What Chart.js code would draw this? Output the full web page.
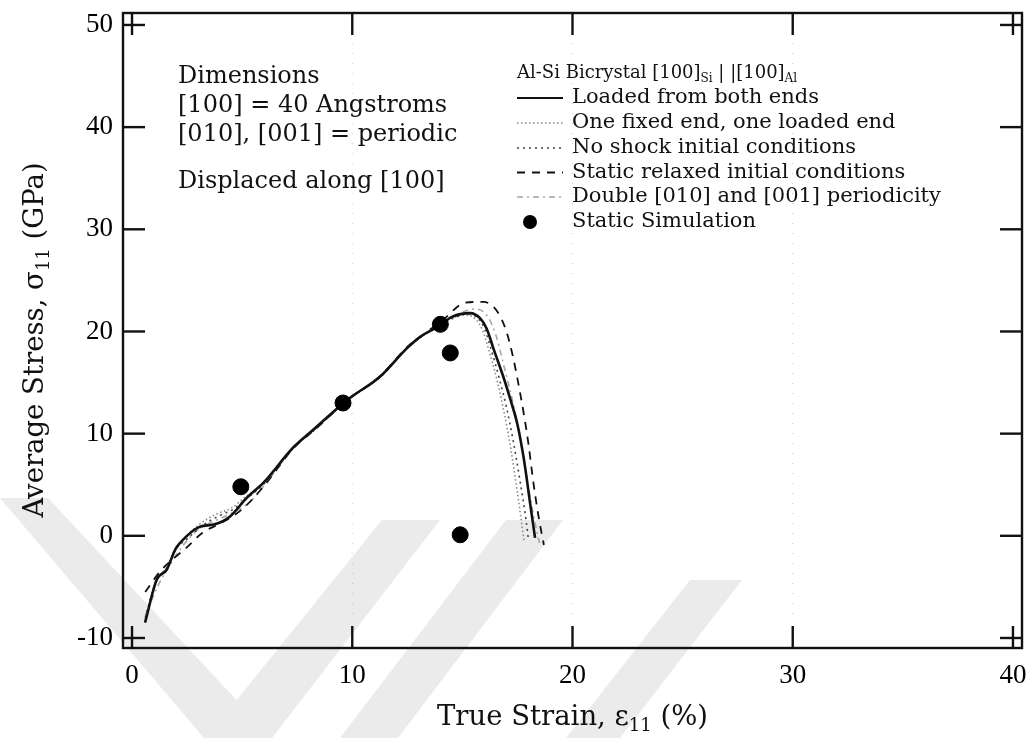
<!DOCTYPE html>
<html>
<head>
<meta charset="utf-8">
<script src="https://cdn.jsdelivr.net/npm/chart.js@4.4.1/dist/chart.umd.min.js"></script>
<style>
  html, body { margin: 0; padding: 0; background: #fff; }
  #wrap { width: 1032px; height: 738px; }
</style>
</head>
<body>
<div id="wrap"><canvas id="chart" width="1032" height="738"></canvas></div>
<script>
const SERIF = "'DejaVu Serif', 'Liberation Serif', serif";
const TICK_FONT = "'Liberation Serif', 'DejaVu Serif', serif";

const xTickValues = [0, 10, 20, 30, 40];
const yTickValues = [-10, 0, 10, 20, 30, 40, 50];

// strain (%) / stress (GPa)
const bothEndsStrain = [0.59, 1.12, 1.58, 1.95, 2.18, 3.09, 3.7, 4.45, 5.2, 5.97, 7.3, 8.24, 9.77, 11.27, 12.5, 13.1, 14.0, 14.5, 15.36, 15.8, 16.1, 16.4, 16.9, 17.2, 17.5, 17.8, 18.1, 18.3];
const bothEndsStress = [-8.5, -4.3, -3.3, -1.4, -0.7, 0.9, 1.1, 1.9, 3.7, 5.2, 8.6, 10.4, 13.3, 15.6, 18.4, 19.5, 20.6, 21.4, 21.8, 21.3, 20.3, 18.4, 15.3, 13.2, 10.9, 7.4, 2.8, -0.2];

const fixedEndStrain = [0.6, 1.1, 1.6, 2.0, 2.4, 3.1, 3.8, 4.5, 5.2, 6.0, 7.3, 8.3, 9.8, 11.3, 12.5, 13.2, 14.0, 14.6, 15.2, 15.6, 15.9, 16.2, 16.6, 16.9, 17.2, 17.5, 17.8];
const fixedEndStress = [-8.2, -4.5, -3.0, -1.2, -0.2, 1.2, 2.1, 2.7, 3.9, 5.2, 8.6, 10.5, 13.3, 15.7, 18.4, 19.6, 20.7, 21.4, 21.6, 21.2, 20.2, 18.2, 15.0, 12.0, 8.5, 4.2, -0.5];

const noShockStrain = [0.6, 1.1, 1.6, 2.0, 2.5, 3.2, 3.9, 4.6, 5.3, 6.0, 7.3, 8.3, 9.8, 11.3, 12.5, 13.2, 14.0, 14.6, 15.2, 15.7, 16.0, 16.3, 16.7, 17.0, 17.3, 17.6, 17.9, 18.0];
const noShockStress = [-8.0, -4.4, -3.1, -1.3, -0.3, 1.0, 1.9, 2.6, 3.8, 5.1, 8.6, 10.4, 13.3, 15.6, 18.4, 19.6, 20.7, 21.3, 21.7, 21.3, 20.3, 18.3, 15.2, 12.6, 9.4, 5.6, 1.4, -0.4];

const relaxedStrain = [0.6, 1.27, 1.9, 2.5, 3.2, 4.0, 5.0, 6.0, 7.3, 8.3, 9.8, 11.3, 12.5, 13.3, 14.2, 15.1, 15.95, 16.6, 17.0, 17.3, 17.55, 17.8, 18.0, 18.2, 18.45, 18.7];
const relaxedStress = [-5.5, -3.5, -2.2, -1.1, 0.3, 1.2, 2.6, 4.9, 8.5, 10.4, 13.3, 15.7, 18.5, 19.8, 21.3, 22.8, 22.9, 21.9, 20.0, 17.5, 14.8, 11.8, 9.0, 5.6, 2.0, -0.9];

const doubleStrain = [0.6, 1.2, 1.8, 2.3, 3.0, 3.8, 4.6, 5.4, 6.2, 7.3, 8.3, 9.8, 11.3, 12.5, 13.2, 14.1, 14.8, 15.6, 16.1, 16.5, 16.9, 17.3, 17.6, 17.9, 18.2, 18.5];
const doubleStress = [-7.8, -4.8, -2.6, -1.0, 0.6, 1.5, 2.3, 3.4, 5.5, 8.5, 10.4, 13.3, 15.6, 18.4, 19.6, 20.9, 21.7, 22.2, 21.6, 19.8, 16.5, 13.0, 9.8, 6.0, 2.3, -0.7];

const staticStrain = [4.94, 9.58, 14.0, 14.45, 14.9];
const staticStress = [4.8, 13.0, 20.7, 17.9, 0.1];

// light grey watermark bands behind the plot (decoration, canvas pixels)
const WATERMARK = [
  [[0, 498], [48, 498], [272, 738], [204, 738]],
  [[382, 520], [440, 520], [272, 738], [206, 738]],
  [[506, 520], [563, 520], [398, 738], [340, 738]],
  [[690, 580], [742, 580], [620, 738], [566, 738]]
];

function pts(xs, ys) {
  return xs.map((x, i) => ({ x: x, y: ys[i] }));
}

function lineSet(label, xs, ys, color, width, dash) {
  return {
    type: "line",
    label: label,
    data: pts(xs, ys),
    borderColor: color,
    backgroundColor: color,
    borderWidth: width,
    borderDash: dash,
    pointRadius: 0,
    cubicInterpolationMode: "monotone",
    fill: false
  };
}

function line(ctx, x1, y1, x2, y2) {
  ctx.beginPath();
  ctx.moveTo(x1, y1);
  ctx.lineTo(x2, y2);
  ctx.stroke();
}

function richWidth(ctx, parts, size) {
  let w = 0;
  parts.forEach(([txt, sub]) => {
    ctx.font = (sub ? Math.round(size * 0.66) : size) + "px " + SERIF;
    w += ctx.measureText(txt).width;
  });
  return w;
}

// draws [text, isSub] pieces one after the other
function drawRich(ctx, parts, x, y, size) {
  let cx = x;
  parts.forEach(([txt, sub]) => {
    ctx.font = (sub ? Math.round(size * 0.66) : size) + "px " + SERIF;
    ctx.fillText(txt, cx, sub ? y + size * 0.3 : y);
    cx += ctx.measureText(txt).width;
  });
}

const xTitle = [["True Strain, ε", false], ["11", true], [" (%)", false]];
const yTitle = [["Average Stress, σ", false], ["11", true], [" (GPa)", false]];
const legendTitle = [["Al-Si Bicrystal [100]", false], ["Si", true], [" | |[100]", false], ["Al", true]];

const decorPlugin = {
  id: "decor",
  beforeDraw(chart) {
    const ctx = chart.ctx;
    ctx.save();
    ctx.fillStyle = "#fff";
    ctx.fillRect(0, 0, chart.width, chart.height);
    ctx.fillStyle = "#ebebeb";
    WATERMARK.forEach(poly => {
      ctx.beginPath();
      poly.forEach(([px, py], i) => (i ? ctx.lineTo(px, py) : ctx.moveTo(px, py)));
      ctx.closePath();
      ctx.fill();
    });
    ctx.restore();
  },
  beforeDatasetsDraw(chart) {
    const ctx = chart.ctx;
    const { top, bottom } = chart.chartArea;
    ctx.save();
    ctx.strokeStyle = "rgba(0,0,0,0.22)";
    ctx.lineWidth = 1;
    ctx.setLineDash([1, 9]);
    xTickValues.slice(1, -1).forEach(v => {
      const px = chart.scales.x.getPixelForValue(v);
      line(ctx, px, top + 30, px, bottom - 30);
    });
    ctx.restore();
  },
  afterDraw(chart) {
    const ctx = chart.ctx;
    const { left, right, top, bottom } = chart.chartArea;
    const xs = chart.scales.x;
    const ys = chart.scales.y;
    const TL = 22;

    ctx.save();
    ctx.strokeStyle = "#111";
    ctx.lineWidth = 2.4;
    ctx.setLineDash([]);
    ctx.strokeRect(left, top, right - left, bottom - top);
    xTickValues.forEach(v => {
      const px = xs.getPixelForValue(v);
      line(ctx, px, bottom, px, bottom - TL);
      line(ctx, px, top, px, top + TL);
    });
    yTickValues.forEach(v => {
      const py = ys.getPixelForValue(v);
      line(ctx, left, py, left + TL, py);
      line(ctx, right, py, right - TL, py);
    });

    ctx.fillStyle = "#111";
    ctx.textBaseline = "middle";
    ctx.textAlign = "left";

    // axis titles
    const TS = 27.5;
    drawRich(ctx, xTitle, (left + right) / 2 - richWidth(ctx, xTitle, TS) / 2, 718, TS);
    ctx.save();
    ctx.translate(36, 340);
    ctx.rotate(-Math.PI / 2);
    drawRich(ctx, yTitle, -richWidth(ctx, yTitle, TS) / 2, 0, TS);
    ctx.restore();

    // annotation block
    ctx.font = "24px " + SERIF;
    ctx.fillText("Dimensions", 178, 77);
    ctx.fillText("[100] = 40 Angstroms", 178, 106);
    ctx.fillText("[010], [001] = periodic", 178, 135);
    ctx.fillText("Displaced along [100]", 178, 182);

    // legend
    const LX = 517;
    drawRich(ctx, legendTitle, LX, 73, 18);
    const rowY = [98, 123, 148, 172.5, 197, 222];
    chart.data.datasets.forEach((ds, i) => {
      const y = rowY[i];
      if (ds.type === "line") {
        ctx.strokeStyle = ds.borderColor;
        ctx.lineWidth = Math.min(ds.borderWidth, 1.8);
        ctx.setLineDash(ds.borderDash || []);
        line(ctx, LX, y, LX + 46, y);
      } else {
        ctx.beginPath();
        ctx.fillStyle = ds.backgroundColor;
        ctx.arc(LX + 13, y, 7, 0, Math.PI * 2);
        ctx.fill();
      }
      ctx.setLineDash([]);
      ctx.fillStyle = "#111";
      ctx.font = "21px " + SERIF;
      ctx.fillText(ds.label, LX + 55, y);
    });
    ctx.restore();
  }
};

new Chart(document.getElementById("chart"), {
  type: "line",
  data: {
    datasets: [
      lineSet("Loaded from both ends", bothEndsStrain, bothEndsStress, "#111", 2.6, []),
      lineSet("One fixed end, one loaded end", fixedEndStrain, fixedEndStress, "#8a8a8a", 1.6, [1.5, 2.5]),
      lineSet("No shock initial conditions", noShockStrain, noShockStress, "#444", 1.6, [2, 4]),
      lineSet("Static relaxed initial conditions", relaxedStrain, relaxedStress, "#111", 1.8, [8, 7]),
      lineSet("Double [010] and [001] periodicity", doubleStrain, doubleStress, "#a8a8a8", 1.6, [6, 4, 2, 4]),
      {
        type: "scatter",
        label: "Static Simulation",
        data: pts(staticStrain, staticStress),
        backgroundColor: "#000",
        borderColor: "#000",
        pointRadius: 8,
        pointHoverRadius: 8,
        showLine: false,
        order: -1
      }
    ]
  },
  options: {
    responsive: false,
    animation: false,
    layout: { padding: { top: 13, right: 10, left: 0, bottom: 0 } },
    plugins: {
      legend: { display: false },
      tooltip: { enabled: false }
    },
    scales: {
      x: {
        type: "linear",
        min: -0.41,
        max: 40.41,
        afterBuildTicks: scale => { scale.ticks = xTickValues.map(v => ({ value: v })); },
        afterFit: scale => {
          scale.height = 90;
          scale.paddingLeft = 0;
          scale.paddingRight = 0;
        },
        grid: { display: false, drawTicks: false },
        border: { display: false },
        ticks: { color: "#000", padding: 12, font: { family: TICK_FONT, size: 27 } }
      },
      y: {
        type: "linear",
        min: -10.98,
        max: 51.17,
        afterBuildTicks: scale => { scale.ticks = yTickValues.map(v => ({ value: v })); },
        afterFit: scale => {
          scale.width = 123;
          scale.paddingTop = 0;
          scale.paddingBottom = 0;
        },
        grid: { display: false, drawTicks: false },
        border: { display: false },
        ticks: { color: "#000", padding: 10, font: { family: TICK_FONT, size: 27 } }
      }
    }
  },
  plugins: [decorPlugin]
});
</script>
</body>
</html>
